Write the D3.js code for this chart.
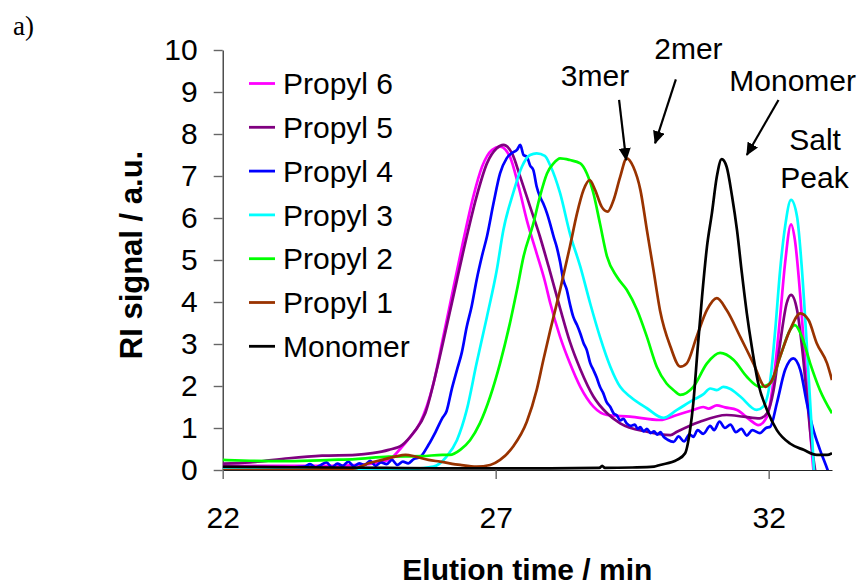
<!DOCTYPE html>
<html>
<head>
<meta charset="utf-8">
<script src="https://cdn.jsdelivr.net/npm/d3@7"></script>
<style>
  html, body { margin: 0; padding: 0; background: #fff; }
  svg { display: block; font-family: "Liberation Sans", Arial, sans-serif; }
</style>
</head>
<body>
<svg id="chart" width="865" height="587"></svg>
<script>
// ---------------- data ----------------
const seriesNames = ["Propyl 6", "Propyl 5", "Propyl 4", "Propyl 3", "Propyl 2", "Propyl 1", "Monomer"];
const xTickValues = [22, 27, 32];
const yTickValues = [0, 1, 2, 3, 4, 5, 6, 7, 8, 9, 10];

const p6T = [22.0, 23.0, 24.0, 24.5, 25.04, 25.25, 25.43, 25.61, 25.86, 26.04, 26.23, 26.41, 26.59, 26.75, 26.93, 27.08, 27.26, 27.42, 27.57, 27.75, 27.90, 28.00, 28.18, 28.36, 28.55, 28.79, 29.04, 29.46, 30.01, 30.32, 30.62, 30.80, 30.90, 31.05, 31.20, 31.42, 31.66, 31.81, 31.97, 32.09, 32.21, 32.30, 32.41, 32.48, 32.58, 32.67, 32.76, 32.82, 32.88];
const p6V = [0.10, 0.10, 0.10, 0.12, 0.24, 0.50, 0.78, 1.11, 2.06, 3.17, 4.36, 5.48, 6.51, 7.22, 7.62, 7.70, 7.46, 6.75, 5.95, 5.16, 4.50, 3.97, 3.17, 2.54, 1.98, 1.51, 1.31, 1.27, 1.19, 1.31, 1.43, 1.50, 1.46, 1.54, 1.49, 1.43, 1.19, 1.07, 1.27, 2.14, 3.65, 4.92, 5.85, 5.48, 4.13, 2.54, 0.95, 0.0, -0.5];

const p5T = [22.0, 22.5, 23.21, 23.82, 24.43, 24.74, 25.04, 25.29, 25.49, 25.71, 25.92, 26.10, 26.29, 26.47, 26.65, 26.84, 27.02, 27.14, 27.30, 27.45, 27.63, 27.81, 27.97, 28.18, 28.36, 28.55, 28.79, 29.04, 29.28, 29.77, 30.20, 30.32, 30.74, 31.23, 31.54, 31.84, 31.97, 32.09, 32.21, 32.33, 32.41, 32.52, 32.61, 32.70, 32.79, 32.85, 32.90];
const p5V = [0.15, 0.18, 0.28, 0.34, 0.36, 0.40, 0.48, 0.60, 0.88, 1.35, 2.38, 3.41, 4.52, 5.56, 6.51, 7.30, 7.66, 7.74, 7.54, 6.98, 6.27, 5.56, 4.84, 3.85, 3.05, 2.40, 1.75, 1.35, 1.11, 0.91, 0.83, 0.91, 1.15, 1.31, 1.27, 1.23, 1.35, 1.90, 3.02, 3.97, 4.17, 3.81, 2.94, 1.75, 0.56, 0.0, -0.5];

const p4T = [22.0, 22.5, 23.0, 23.5, 23.6, 23.7, 23.8, 23.9, 24.0, 24.1, 24.2, 24.3, 24.4, 24.5, 24.6, 24.7, 24.8, 24.9, 25.0, 25.1, 25.2, 25.3, 25.4, 25.5, 25.61, 25.77, 25.90, 26.02, 26.10, 26.20, 26.29, 26.38, 26.47, 26.56, 26.65, 26.75, 26.84, 26.96, 27.08, 27.20, 27.30, 27.39, 27.45, 27.51, 27.57, 27.63, 27.69, 27.75, 27.81, 27.87, 27.94, 28.00, 28.06, 28.12, 28.18, 28.24, 28.30, 28.36, 28.42, 28.49, 28.55, 28.61, 28.67, 28.73, 28.79, 28.85, 28.91, 28.97, 29.03, 29.10, 29.16, 29.22, 29.28, 29.34, 29.40, 29.47, 29.55, 29.60, 29.65, 29.71, 29.77, 29.84, 29.90, 29.96, 30.02, 30.07, 30.15, 30.26, 30.35, 30.45, 30.55, 30.62, 30.70, 30.80, 30.93, 31.00, 31.10, 31.20, 31.30, 31.40, 31.50, 31.60, 31.70, 31.84, 31.95, 32.03, 32.15, 32.30, 32.45, 32.58, 32.70, 32.82, 32.94, 33.08, 33.16];
const p4V = [0.05, 0.06, 0.05, 0.08, 0.14, 0.06, 0.12, 0.18, 0.07, 0.15, 0.10, 0.20, 0.09, 0.16, 0.12, 0.22, 0.10, 0.18, 0.14, 0.24, 0.12, 0.20, 0.16, 0.26, 0.30, 0.60, 0.91, 1.23, 1.40, 1.95, 2.38, 2.80, 3.41, 3.90, 4.52, 5.10, 5.56, 6.35, 7.06, 7.42, 7.55, 7.62, 7.74, 7.50, 7.46, 7.25, 7.14, 6.75, 6.51, 6.35, 6.11, 5.85, 5.56, 5.30, 4.95, 4.52, 4.30, 3.95, 3.65, 3.45, 3.25, 3.02, 2.85, 2.55, 2.38, 2.20, 1.98, 1.83, 1.62, 1.50, 1.35, 1.30, 1.18, 1.22, 1.11, 1.05, 1.08, 0.98, 1.02, 0.92, 0.98, 0.88, 0.92, 0.84, 0.90, 0.80, 0.72, 0.67, 0.80, 0.68, 0.85, 0.79, 0.95, 0.86, 1.05, 0.95, 1.15, 1.00, 1.08, 0.90, 0.98, 0.82, 0.95, 0.88, 1.00, 1.03, 1.59, 2.38, 2.66, 2.38, 1.59, 0.95, 0.48, 0.0, -0.3];

const p3T = [22.0, 23.0, 24.0, 25.0, 25.5, 25.86, 26.10, 26.29, 26.47, 26.65, 26.84, 27.02, 27.14, 27.32, 27.48, 27.63, 27.75, 27.90, 28.00, 28.18, 28.36, 28.55, 28.73, 28.91, 29.10, 29.28, 29.46, 29.77, 30.07, 30.32, 30.62, 30.80, 30.93, 31.05, 31.17, 31.30, 31.48, 31.78, 31.90, 32.03, 32.12, 32.21, 32.30, 32.41, 32.52, 32.61, 32.70, 32.79, 32.83, 32.88];
const p3V = [0.03, 0.03, 0.02, 0.03, 0.03, 0.08, 0.32, 0.71, 1.43, 2.54, 3.65, 4.76, 5.71, 6.59, 7.22, 7.50, 7.54, 7.48, 7.25, 6.59, 5.63, 4.84, 3.97, 3.17, 2.46, 1.98, 1.75, 1.47, 1.24, 1.43, 1.67, 1.80, 1.94, 1.90, 1.98, 1.93, 1.75, 1.43, 1.51, 2.14, 3.33, 4.76, 5.79, 6.43, 6.03, 4.76, 2.94, 0.95, 0.0, -0.5];

const p2T = [22.0, 22.5, 23.21, 24.0, 24.43, 25.04, 25.65, 26.02, 26.16, 26.35, 26.53, 26.71, 26.90, 27.08, 27.26, 27.39, 27.51, 27.69, 27.81, 27.94, 28.06, 28.18, 28.36, 28.55, 28.67, 28.79, 28.91, 29.04, 29.22, 29.40, 29.59, 29.77, 29.95, 30.13, 30.26, 30.38, 30.62, 30.87, 31.11, 31.36, 31.60, 31.84, 32.03, 32.21, 32.39, 32.48, 32.61, 32.76, 32.94, 33.16];
const p2V = [0.24, 0.22, 0.21, 0.24, 0.26, 0.32, 0.33, 0.36, 0.36, 0.48, 0.71, 1.11, 1.75, 2.54, 3.49, 4.29, 5.08, 5.87, 6.51, 7.06, 7.30, 7.42, 7.38, 7.30, 7.06, 6.59, 5.87, 5.08, 4.60, 4.29, 3.81, 3.17, 2.46, 2.06, 1.90, 1.79, 1.98, 2.54, 2.79, 2.62, 2.22, 1.98, 2.06, 2.70, 3.33, 3.45, 3.17, 2.54, 1.90, 1.35];

const p1T = [22.0, 23.0, 24.0, 24.43, 24.67, 24.92, 25.16, 25.35, 25.53, 25.77, 25.98, 26.35, 26.65, 26.90, 27.08, 27.32, 27.57, 27.75, 27.87, 28.00, 28.18, 28.36, 28.49, 28.61, 28.72, 28.82, 28.94, 29.05, 29.16, 29.28, 29.40, 29.52, 29.65, 29.77, 29.89, 30.01, 30.20, 30.38, 30.50, 30.68, 30.87, 31.05, 31.23, 31.48, 31.72, 31.94, 32.06, 32.21, 32.39, 32.58, 32.73, 32.88, 33.07, 33.16];
const p1V = [0.0, 0.0, 0.02, 0.04, 0.16, 0.24, 0.32, 0.36, 0.32, 0.24, 0.20, 0.12, 0.08, 0.12, 0.24, 0.56, 1.15, 1.90, 2.60, 3.33, 4.29, 5.32, 6.11, 6.67, 6.90, 6.67, 6.27, 6.15, 6.43, 6.98, 7.42, 7.22, 6.67, 5.71, 4.76, 3.80, 2.94, 2.46, 2.54, 3.17, 3.81, 4.09, 3.81, 3.17, 2.54, 1.98, 2.14, 2.70, 3.33, 3.73, 3.57, 3.02, 2.54, 2.14];

const monoT = [22.0, 23.0, 24.0, 25.0, 26.0, 27.0, 28.0, 28.9, 28.95, 29.0, 29.5, 29.9, 30.01, 30.32, 30.47, 30.56, 30.62, 30.70, 30.78, 30.87, 30.96, 31.05, 31.14, 31.23, 31.33, 31.42, 31.51, 31.60, 31.69, 31.81, 31.97, 32.15, 32.39, 32.64, 32.88, 33.07, 33.16];
const monoV = [0.08, 0.07, 0.06, 0.05, 0.04, 0.04, 0.04, 0.05, 0.10, 0.05, 0.06, 0.08, 0.12, 0.24, 0.40, 0.95, 1.60, 2.90, 4.13, 5.32, 6.11, 6.98, 7.40, 7.22, 6.51, 5.71, 4.68, 3.73, 2.94, 2.06, 1.43, 0.95, 0.63, 0.48, 0.36, 0.36, 0.40];

const seriesColors = ["#FF00FF", "#800080", "#0000FF", "#00FFFF", "#00FF00", "#993300", "#000000"];

// annotations: label, text anchor (time, signal), arrow tail, arrow tip
const annoLabels = ["3mer", "2mer", "Monomer", "Salt", "Peak"];
const annoTextT = [28.82, 30.53, 32.44, 32.85, 32.84];
const annoTextV = [9.14, 9.78, 9.02, 7.62, 6.71];
const arrowTailT = [29.26, 30.30, 32.18];
const arrowTailV = [8.81, 9.30, 8.81];
const arrowTipT = [29.39, 29.92, 31.60];
const arrowTipV = [7.38, 7.78, 7.50];

// ---------------- chart ----------------
(function () {
const series = [
  {name: seriesNames[0], t: p6T, v: p6V},
  {name: seriesNames[1], t: p5T, v: p5V},
  {name: seriesNames[2], t: p4T, v: p4V},
  {name: seriesNames[3], t: p3T, v: p3V},
  {name: seriesNames[4], t: p2T, v: p2V},
  {name: seriesNames[5], t: p1T, v: p1V},
  {name: seriesNames[6], t: monoT, v: monoV}
].map((s, i) => ({...s, color: seriesColors[i], pts: s.t.map((t, j) => [t, s.v[j]])}));

const svg = d3.select("#chart");
const pL = 222.7, pR = 832, pT = 50, pB = 470;
const x = d3.scaleLinear().domain([22, 33.16]).range([pL, pR]);
const y = d3.scaleLinear().domain([0, 10]).range([pB, pT]);
const FONT = "30px";

const defs = svg.append("defs");
defs.append("clipPath").attr("id", "plotclip")
  .append("rect").attr("x", pL).attr("y", pT - 5).attr("width", pR - pL).attr("height", pB - pT + 5);

defs.append("marker").attr("id", "arrowhead")
  .attr("viewBox", "0 -6 13 12").attr("refX", 12).attr("refY", 0)
  .attr("markerUnits", "userSpaceOnUse").attr("markerWidth", 13).attr("markerHeight", 12)
  .attr("orient", "auto")
  .append("path").attr("d", "M0,-6L13,0L0,6Z").attr("fill", "#000");

// label a)
svg.append("text").attr("x", 13).attr("y", 35)
  .style("font-family", "'Liberation Serif', 'Times New Roman', serif")
  .style("font-size", "27px").text("a)");

// axes
const yAxis = d3.axisLeft(y).tickValues(yTickValues).tickSize(9).tickSizeOuter(0).tickPadding(16);
const gy = svg.append("g").attr("transform", `translate(${pL},0)`).call(yAxis);
gy.selectAll("text").style("font-size", FONT).attr("fill", "#000")
  .style("font-family", "'Liberation Sans', Arial, sans-serif");

const xAxis = d3.axisBottom(x).tickValues(xTickValues).tickSize(9).tickSizeOuter(0).tickPadding(28).tickFormat(d3.format("d"));
const gx = svg.append("g").attr("transform", `translate(0,${pB})`).call(xAxis);
gx.selectAll("text").style("font-size", FONT).attr("fill", "#000")
  .style("font-family", "'Liberation Sans', Arial, sans-serif");

[gx, gy].forEach(g => {
  g.select(".domain").attr("stroke", "#222").attr("stroke-width", 1.2);
  g.selectAll(".tick line").attr("stroke", "#666").attr("stroke-width", 1.4);
});

// axis titles
svg.append("text").attr("x", (pL + pR) / 2).attr("y", 580)
  .attr("text-anchor", "middle").style("font-size", "30px").style("font-weight", "bold")
  .text("Elution time / min");
svg.append("text").attr("transform", `translate(142,255) rotate(-90)`)
  .attr("text-anchor", "middle").style("font-size", "31px").style("font-weight", "bold")
  .text("RI signal / a.u.");

// series
const line = d3.line().x(d => x(d[0])).y(d => y(d[1])).curve(d3.curveMonotoneX);
const gLines = svg.append("g").attr("clip-path", "url(#plotclip)");
gLines.selectAll("path").data(series).join("path")
  .attr("d", d => line(d.pts))
  .attr("fill", "none")
  .attr("stroke", d => d.color)
  .attr("stroke-width", 2.7)
  .attr("stroke-linejoin", "round");

// legend
const lg = svg.append("g");
series.forEach((s, i) => {
  const ly = 83.5 + i * 43.8;
  lg.append("line").attr("x1", 249).attr("x2", 275).attr("y1", ly).attr("y2", ly)
    .attr("stroke", s.color).attr("stroke-width", 2.8);
  lg.append("text").attr("x", 283).attr("y", ly + 10.7).style("font-size", FONT).text(s.name);
});

// annotations
annoLabels.forEach((lab, i) => {
  svg.append("text").attr("x", x(annoTextT[i])).attr("y", y(annoTextV[i]))
    .attr("text-anchor", "middle").style("font-size", FONT).text(lab);
});
arrowTailT.forEach((t, i) => {
  svg.append("line")
    .attr("x1", x(t)).attr("y1", y(arrowTailV[i]))
    .attr("x2", x(arrowTipT[i])).attr("y2", y(arrowTipV[i]))
    .attr("stroke", "#000").attr("stroke-width", 2.2)
    .attr("marker-end", "url(#arrowhead)");
});
})();
</script>
</body>
</html>
